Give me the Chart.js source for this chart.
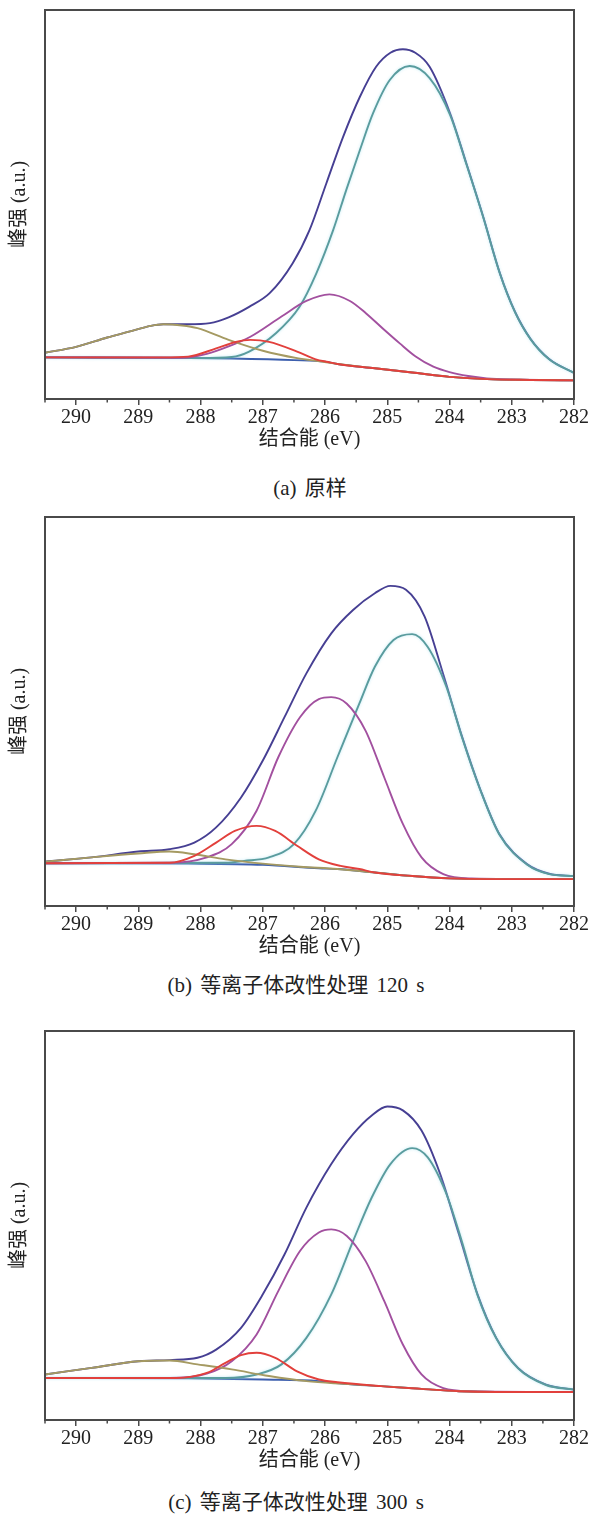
<!DOCTYPE html>
<html>
<head>
<meta charset="utf-8">
<script src="https://cdn.jsdelivr.net/npm/chart.js@4.4.1/dist/chart.umd.min.js"></script>
<style>
  body { margin: 0; background: #fff; }
  #page { position: relative; width: 590px; height: 1522px; }
  .panel { position: absolute; left: 0; }
  .caption {
    position: absolute; white-space: nowrap; transform: translate(-50%, -50%);
    font-family: "Liberation Serif", "Noto Sans CJK SC", serif;
    font-size: 21px; word-spacing: 3px; color: #222;
  }
</style>
</head>
<body>
<div id="page">
  <canvas id="chartA" class="panel" width="590" height="455" style="top:0px"></canvas>
  <canvas id="chartB" class="panel" width="590" height="455" style="top:507px"></canvas>
  <canvas id="chartC" class="panel" width="590" height="455" style="top:1021px"></canvas>
  <div class="caption" id="capA" style="left:310px; top:486px"></div>
  <div class="caption" id="capB" style="left:296px; top:983px"></div>
  <div class="caption" id="capC" style="left:296px; top:1500px"></div>
</div>
<script>
// text
const xTitle = '结合能 (eV)';
const yTitle = '峰强 (a.u.)';
const captions = ['(a) 原样', '(b) 等离子体改性处理 120 s', '(c) 等离子体改性处理 300 s'];

// x axis: binding energy, reversed
const xMin = 282, xMax = 290.5;
const xTickLabels = [290, 289, 288, 287, 286, 285, 284, 283, 282];

// curves: [binding energy (eV), intensity (a.u., 0-100 of plot height)]
// (a) 原样
const envA = [[290.5,11.9],[290.0,13.4],[289.5,15.8],[289.15,17.3],[288.8,18.8],[288.6,19.2],[288.2,19.2],[287.85,19.5],[287.55,21.0],[287.22,23.7],[286.89,27.2],[286.52,34.9],[286.25,43.4],[285.98,55.4],[285.71,67.4],[285.44,77.7],[285.18,85.4],[284.95,89.0],[284.75,89.9],[284.55,89.0],[284.32,85.4],[283.99,73.4],[283.73,60.6],[283.46,46.9],[283.19,32.3],[282.95,22.5],[282.7,15.5],[282.4,10.3],[282.0,6.7]];
const ccA = [[290.5,10.7],[288.0,10.5],[287.5,10.8],[287.22,12.2],[286.79,16.9],[286.41,23.7],[286.14,32.3],[285.87,43.4],[285.66,53.7],[285.44,64.0],[285.23,73.4],[284.96,82.0],[284.64,85.6],[284.32,82.5],[283.99,73.0],[283.73,60.4],[283.46,46.8],[283.19,32.2],[282.95,22.4],[282.7,15.4],[282.4,10.2],[282.0,6.7]];
const coA = [[290.5,10.7],[288.3,10.6],[287.9,11.6],[287.55,13.5],[287.2,16.0],[286.7,21.2],[286.3,25.2],[285.93,26.9],[285.6,25.2],[285.34,22.0],[285.05,17.8],[284.8,14.3],[284.55,11.0],[284.26,8.3],[284.0,6.9],[283.7,5.9],[283.4,5.3],[283.0,5.0],[282.0,4.8]];
const coxA = [[290.5,10.7],[288.6,10.7],[288.2,10.9],[287.75,13.0],[287.45,14.6],[287.2,15.2],[286.9,14.7],[286.45,12.2],[286.15,10.2],[285.95,9.5],[285.8,9.0],[285.2,7.9],[284.6,6.8],[284.0,5.7],[283.4,5.1],[282.7,4.9],[282.0,4.8]];
const carbA = [[290.5,11.9],[290.0,13.4],[289.5,15.8],[289.15,17.3],[288.8,18.8],[288.6,19.2],[288.3,18.9],[288.05,18.2],[287.55,15.2],[287.0,12.4],[286.45,10.5],[286.05,9.6],[285.8,9.0],[285.2,7.9],[284.6,6.8],[284.0,5.7],[283.4,5.1],[282.7,4.9],[282.0,4.8]];
const bgA = [[290.5,10.7],[288.5,10.6],[287.5,10.4],[286.5,10.0],[286.0,9.6],[285.8,9.0],[285.2,7.9],[284.6,6.8],[284.0,5.7],[283.4,5.1],[282.7,4.9],[282.0,4.8]];

// (b) 120 s
const envB = [[290.5,11.4],[289.75,12.5],[289.0,14.0],[288.5,14.6],[288.1,16.3],[287.75,20.2],[287.35,27.9],[287.0,37.4],[286.65,48.6],[286.3,59.8],[285.9,70.1],[285.55,76.1],[285.2,80.4],[284.95,82.3],[284.7,81.3],[284.4,74.4],[284.1,59.5],[283.8,43.6],[283.5,29.7],[283.2,18.5],[282.75,10.7],[282.4,8.3],[282.0,7.7]];
const ccB = [[290.5,11.0],[287.6,11.1],[287.3,11.6],[286.9,12.5],[286.5,15.9],[286.15,24.5],[285.8,38.3],[285.45,52.0],[285.2,61.5],[284.9,68.4],[284.6,69.9],[284.35,66.6],[284.05,56.3],[283.8,43.4],[283.5,29.6],[283.2,18.4],[282.75,10.6],[282.4,8.2],[282.0,7.7]];
const coB = [[290.5,11.0],[288.5,11.1],[287.9,12.5],[287.5,15.9],[287.1,24.5],[286.75,38.3],[286.4,48.6],[286.1,53.2],[285.9,53.7],[285.65,52.0],[285.35,45.1],[285.05,33.1],[284.75,21.1],[284.45,12.5],[284.1,8.2],[283.65,7.1],[282.0,6.9]];
const coxB = [[290.5,11.0],[288.5,11.1],[288.1,12.9],[287.75,16.3],[287.45,19.3],[287.1,20.6],[286.8,19.3],[286.45,15.5],[286.1,12.0],[285.75,10.3],[285.45,9.5],[285.2,8.6],[284.6,7.7],[284.0,7.1],[283.4,6.9],[282.0,6.9]];
const carbB = [[290.5,11.4],[289.75,12.5],[289.0,13.5],[288.5,14.0],[288.1,13.3],[287.6,12.0],[287.0,10.9],[286.4,10.1],[285.8,9.5],[285.2,8.6],[284.6,7.7],[284.0,7.1],[283.4,6.9],[282.0,6.9]];
const bgB = [[290.5,11.0],[288.2,10.9],[287.0,10.6],[286.1,9.7],[285.8,9.5],[285.2,8.6],[284.6,7.7],[284.0,7.1],[283.4,6.9],[282.0,6.9]];

// (c) 300 s
const envC = [[290.5,11.7],[289.75,13.4],[289.0,15.1],[288.5,15.4],[288.05,16.0],[287.75,18.1],[287.35,23.7],[287.0,32.3],[286.65,42.6],[286.3,54.6],[285.9,65.8],[285.55,73.5],[285.25,78.3],[285.0,80.6],[284.75,79.6],[284.45,74.4],[284.15,63.2],[283.85,47.8],[283.55,32.3],[283.25,21.1],[282.9,13.4],[282.45,9.1],[282.0,7.8]];
const ccC = [[290.5,10.8],[287.6,10.8],[287.1,11.7],[286.7,14.3],[286.3,21.1],[285.9,32.3],[285.55,46.0],[285.25,57.2],[284.95,65.8],[284.6,69.9],[284.35,67.5],[284.05,58.1],[283.8,45.8],[283.55,32.1],[283.25,21.0],[282.9,13.3],[282.45,9.0],[282.0,7.8]];
const coC = [[290.5,10.8],[288.5,10.8],[287.9,11.9],[287.5,15.1],[287.1,22.0],[286.75,33.2],[286.4,43.5],[286.1,48.2],[285.9,49.0],[285.65,47.3],[285.35,40.9],[285.05,30.6],[284.75,19.4],[284.45,11.7],[284.1,8.2],[283.65,7.4],[282.0,7.2]];
const coxC = [[290.5,10.8],[288.4,10.8],[287.9,12.1],[287.6,14.7],[287.35,16.7],[287.1,17.3],[286.8,16.0],[286.45,12.5],[286.1,10.4],[285.8,9.7],[285.1,8.7],[284.45,8.0],[283.85,7.4],[283.25,7.2],[282.0,7.2]];
const carbC = [[290.5,11.7],[289.75,13.4],[289.0,15.1],[288.5,15.3],[288.05,14.3],[287.5,13.0],[286.9,11.3],[286.3,10.0],[285.7,9.3],[285.1,8.7],[284.45,8.0],[283.85,7.4],[283.25,7.2],[282.0,7.2]];
const bgC = [[290.5,10.8],[288.2,10.7],[287.0,10.4],[286.1,10.0],[285.7,9.3],[285.1,8.7],[284.45,8.0],[283.85,7.4],[283.25,7.2],[282.0,7.2]];

const colors = {
    env: '#463f93',
    cc: '#5a9c9e',
    co: '#a2509f',
    cox: '#e2403c',
    carb: '#a59a62',
    bg: '#3d5fae'
};
const axisColor = '#4a4a4a';
const serif = '"Liberation Serif", "Noto Sans CJK SC", serif';

// box around the plot + short minor ticks at the half eV marks
const framePlugin = {
    id: 'frame',
    afterDraw(chart) {
        const {ctx, chartArea} = chart;
        const xs = chart.scales.x;
        ctx.save();
        ctx.strokeStyle = axisColor;
        ctx.lineWidth = 2;
        ctx.strokeRect(chartArea.left, chartArea.top, chartArea.right - chartArea.left, chartArea.bottom - chartArea.top);
        ctx.lineWidth = 1.5;
        for (let v = xMin + 0.5; v <= xMax; v += 1) {
            const px = xs.getPixelForValue(v);
            ctx.beginPath();
            ctx.moveTo(px, chartArea.bottom);
            ctx.lineTo(px, chartArea.bottom + 3.5);
            ctx.stroke();
        }
        ctx.restore();
    }
};

// faint cyan glow around the C-C line, like the scanned figure
const glowPlugin = {
    id: 'glow',
    beforeDatasetDraw(chart, args) {
        if (chart.data.datasets[args.index].borderColor === colors.cc) {
            chart.ctx.save();
            chart.ctx.shadowColor = 'rgba(150, 220, 238, 0.6)';
            chart.ctx.shadowBlur = 3;
        }
    },
    afterDatasetDraw(chart, args) {
        if (chart.data.datasets[args.index].borderColor === colors.cc) {
            chart.ctx.restore();
        }
    }
};

function line(data, color, order) {
    return {
        data: data,
        borderColor: color,
        borderWidth: 1.9,
        pointRadius: 0,
        fill: false,
        cubicInterpolationMode: 'monotone',
        order: order
    };
}

function makePanel(id, env, cc, co, cox, carb, bg) {
    const ctx = document.getElementById(id).getContext('2d');
    return new Chart(ctx, {
        type: 'line',
        data: {
            datasets: [
                line(cox, colors.cox, 0),
                line(carb, colors.carb, 1),
                line(co, colors.co, 2),
                line(cc, colors.cc, 3),
                line(env, colors.env, 4),
                line(bg, colors.bg, 5)
            ]
        },
        options: {
            responsive: false,
            animation: false,
            devicePixelRatio: 1,
            layout: { padding: { top: 10, right: 16, left: 0, bottom: 0 } },
            plugins: { legend: { display: false }, tooltip: { enabled: false } },
            scales: {
                x: {
                    type: 'linear',
                    reverse: true,
                    min: xMin,
                    max: xMax,
                    afterFit: scale => { scale.height = 56; },
                    border: { display: false },
                    grid: { drawOnChartArea: false, drawTicks: true, tickLength: 6, color: axisColor, lineWidth: 1.5 },
                    ticks: {
                        stepSize: 1,
                        includeBounds: false,
                        autoSkip: false,
                        maxRotation: 0,
                        padding: 1,
                        color: '#222',
                        font: { family: serif, size: 20 },
                        callback: v => xTickLabels.includes(v) ? String(v) : ''
                    },
                    title: { display: true, text: xTitle, color: '#222', padding: { top: 0, bottom: 3 }, font: { family: serif, size: 20 } }
                },
                y: {
                    min: 0,
                    max: 100,
                    afterFit: scale => { scale.width = 45; },
                    border: { display: false },
                    grid: { display: false },
                    ticks: { display: false },
                    title: { display: true, text: yTitle, color: '#222', padding: { top: 8, bottom: 0 }, font: { family: serif, size: 20 } }
                }
            }
        },
        plugins: [glowPlugin, framePlugin]
    });
}

makePanel('chartA', envA, ccA, coA, coxA, carbA, bgA);
makePanel('chartB', envB, ccB, coB, coxB, carbB, bgB);
makePanel('chartC', envC, ccC, coC, coxC, carbC, bgC);

document.getElementById('capA').textContent = captions[0];
document.getElementById('capB').textContent = captions[1];
document.getElementById('capC').textContent = captions[2];
</script>
</body>
</html>
